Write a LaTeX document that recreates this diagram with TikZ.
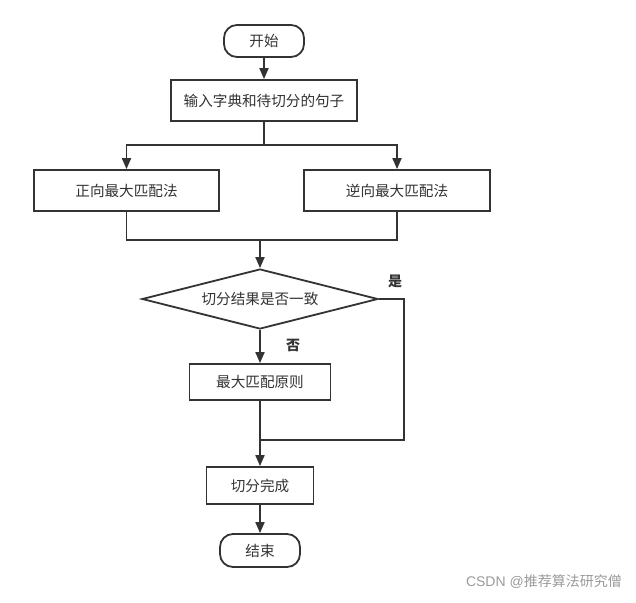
\documentclass[tikz,border=0pt]{standalone}
\usepackage{fontspec}
\setmainfont{Noto Sans CJK SC}
\newfontfamily\latinfont{Liberation Sans}
\usetikzlibrary{shapes.geometric,arrows.meta}
\definecolor{ln}{HTML}{333333}
\definecolor{wm}{HTML}{9A9A9A}
\tikzset{
  box/.style={draw=ln,line width=1.8pt,fill=white,rectangle,inner sep=0pt,text=ln,font=\fontsize{14.6}{17}\selectfont},
  term/.style={box,rounded corners=13pt},
  decis/.style={box,diamond,minimum width=236pt,minimum height=60pt,shape aspect=3.9},
  conn/.style={draw=ln,line width=1.8pt},
  arr/.style={conn,-{Triangle[length=11pt,width=9pt]}},
  lbl/.style={text=ln,font=\fontsize{14}{16}\selectfont\bfseries,inner sep=0pt}
}
\begin{document}
\begin{tikzpicture}[x=1pt,y=-1pt]
\useasboundingbox (0,0) rectangle (636,602);
\node[term,minimum width=80pt,minimum height=32pt] (start) at (264,41) {开始};
\node[box,minimum width=186pt,minimum height=41pt] (input) at (264,100.5) {输入字典和待切分的句子};
\node[box,minimum width=185pt,minimum height=41pt] (fwd) at (126.5,190.5) {正向最大匹配法};
\node[box,minimum width=186pt,minimum height=41pt] (bwd) at (397,190.5) {逆向最大匹配法};
\node[decis] (dec) at (260,299) {切分结果是否一致};
\node[box,minimum width=141pt,minimum height=36pt] (rule) at (260,382) {最大匹配原则};
\node[box,minimum width=107pt,minimum height=37pt] (done) at (260,485.5) {切分完成};
\node[term,minimum width=80pt,minimum height=33pt] (end) at (260,550.5) {结束};
\coordinate (split) at (264,145);
\coordinate (merge) at (260,239);
\coordinate (yesc) at (404,299);
\coordinate (join) at (260,440);
\draw[arr] (start.south) -- (input.north);
\draw[conn] (input.south) -- (split);
\draw[arr] (split) -| (fwd.north);
\draw[arr] (split) -| (bwd.north);
\draw[conn] (fwd.south) -- ++(0,28) -| (bwd.south);
\draw[arr] (merge) -- (dec.north);
\draw[arr] (dec.south) -- (rule.north);
\node[lbl] (no) at (293,345) {否};
\draw[conn] (dec.east) -- (yesc) |- (join);
\node[lbl] (yes) at (395,281) {是};
\draw[arr] (rule.south) -- (done.north);
\draw[arr] (done.south) -- (end.north);
\node[text=wm,font=\fontsize{14}{16}\selectfont,inner sep=0pt,anchor=east] (mark) at (622,582) {{\latinfont CSDN @}推荐算法研究僧};
\end{tikzpicture}
\end{document}
